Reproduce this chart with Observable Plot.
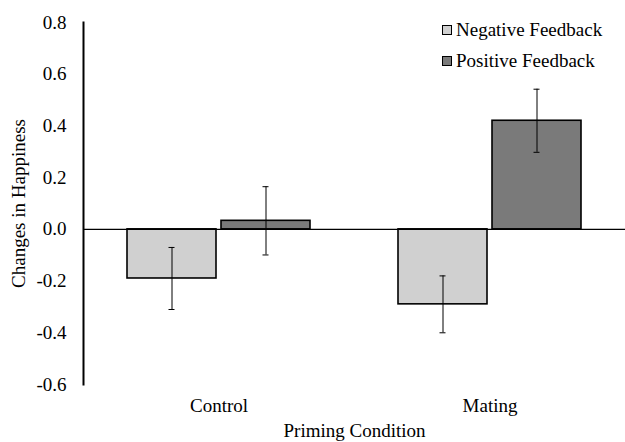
<!DOCTYPE html>
<html>
<head>
<meta charset="utf-8">
<script src="https://cdn.jsdelivr.net/npm/d3@7"></script>
<script src="https://cdn.jsdelivr.net/npm/@observablehq/plot@0.6"></script>
<style>
  body { margin: 0; background: #fff; }
  #wrap { position: relative; width: 625px; height: 442px; font-family: "Liberation Serif", "Times New Roman", serif; }
  #wrap svg text { font-family: "Liberation Serif", "Times New Roman", serif; }
  #legend { position: absolute; left: 442px; top: 14px; font-size: 19px; color: #000; }
  .item { display: flex; align-items: center; height: 31px; }
  .sw { width: 8px; height: 8px; border: 1.5px solid #000; margin-right: 4px; }
</style>
</head>
<body>
<div id="wrap"><div id="legend"></div></div>
<script>
const conditions = ["Control", "Control", "Mating", "Mating"];
const feedback = ["Negative Feedback", "Positive Feedback", "Negative Feedback", "Positive Feedback"];
const means = [-0.19, 0.033, -0.29, 0.42];
const errors = [0.12, 0.132, 0.11, 0.122];
const seriesNames = ["Negative Feedback", "Positive Feedback"];
const seriesColors = ["#d0d0d0", "#7a7a7a"];
const yTicks = [-0.6, -0.4, -0.2, 0.0, 0.2, 0.4, 0.6, 0.8];

const data = means.map((m, i) => ({
  condition: conditions[i], series: feedback[i], value: m,
  lo: m - errors[i], hi: m + errors[i]
}));

const chart = Plot.plot({
  width: 625,
  height: 442,
  marginTop: 22,
  marginBottom: 58,
  marginLeft: 82,
  marginRight: 0,
  style: { fontFamily: "'Liberation Serif', 'Times New Roman', serif", fontSize: "19px", color: "#000", background: "#fff" },
  fx: { domain: ["Control", "Mating"], padding: 0, tickSize: 0, tickPadding: 14, label: "Priming Condition", labelAnchor: "center", labelOffset: 52, labelArrow: "none" },
  x: { domain: seriesNames, paddingInner: 0.05, paddingOuter: 0.454, axis: null },
  y: { domain: [-0.6, 0.8], ticks: yTicks, tickFormat: d => d.toFixed(1), tickSize: 0, tickPadding: 17, label: "Changes in Happiness", labelAnchor: "center", labelOffset: 72, labelArrow: "none" },
  color: { domain: seriesNames, range: seriesColors },
  marks: [
    Plot.barY(data, { fx: "condition", x: "series", y: "value", fill: "series", stroke: "#000", strokeWidth: 1.6 }),
    Plot.frame({ anchor: "left", facetAnchor: "left", stroke: "#000", strokeWidth: 2 }),
    Plot.ruleY([0], { stroke: "#000", strokeWidth: 1.4 }),
    Plot.ruleX(data, { fx: "condition", x: "series", y1: "lo", y2: "hi", stroke: "#000", strokeWidth: 1 }),
    Plot.tickY(data, { fx: "condition", x: "series", y: "lo", stroke: "#000", strokeWidth: 1, insetLeft: 41.5, insetRight: 41.5 }),
    Plot.tickY(data, { fx: "condition", x: "series", y: "hi", stroke: "#000", strokeWidth: 1, insetLeft: 41.5, insetRight: 41.5 })
  ]
});

const wrap = document.getElementById("wrap");
wrap.insertBefore(chart, wrap.firstChild);

const legend = document.getElementById("legend");
seriesNames.forEach((name, i) => {
  const item = document.createElement("div");
  item.className = "item";
  const sw = document.createElement("span");
  sw.className = "sw";
  sw.style.background = seriesColors[i];
  const t = document.createElement("span");
  t.textContent = name;
  item.appendChild(sw);
  item.appendChild(t);
  legend.appendChild(item);
});
</script>
</body>
</html>
